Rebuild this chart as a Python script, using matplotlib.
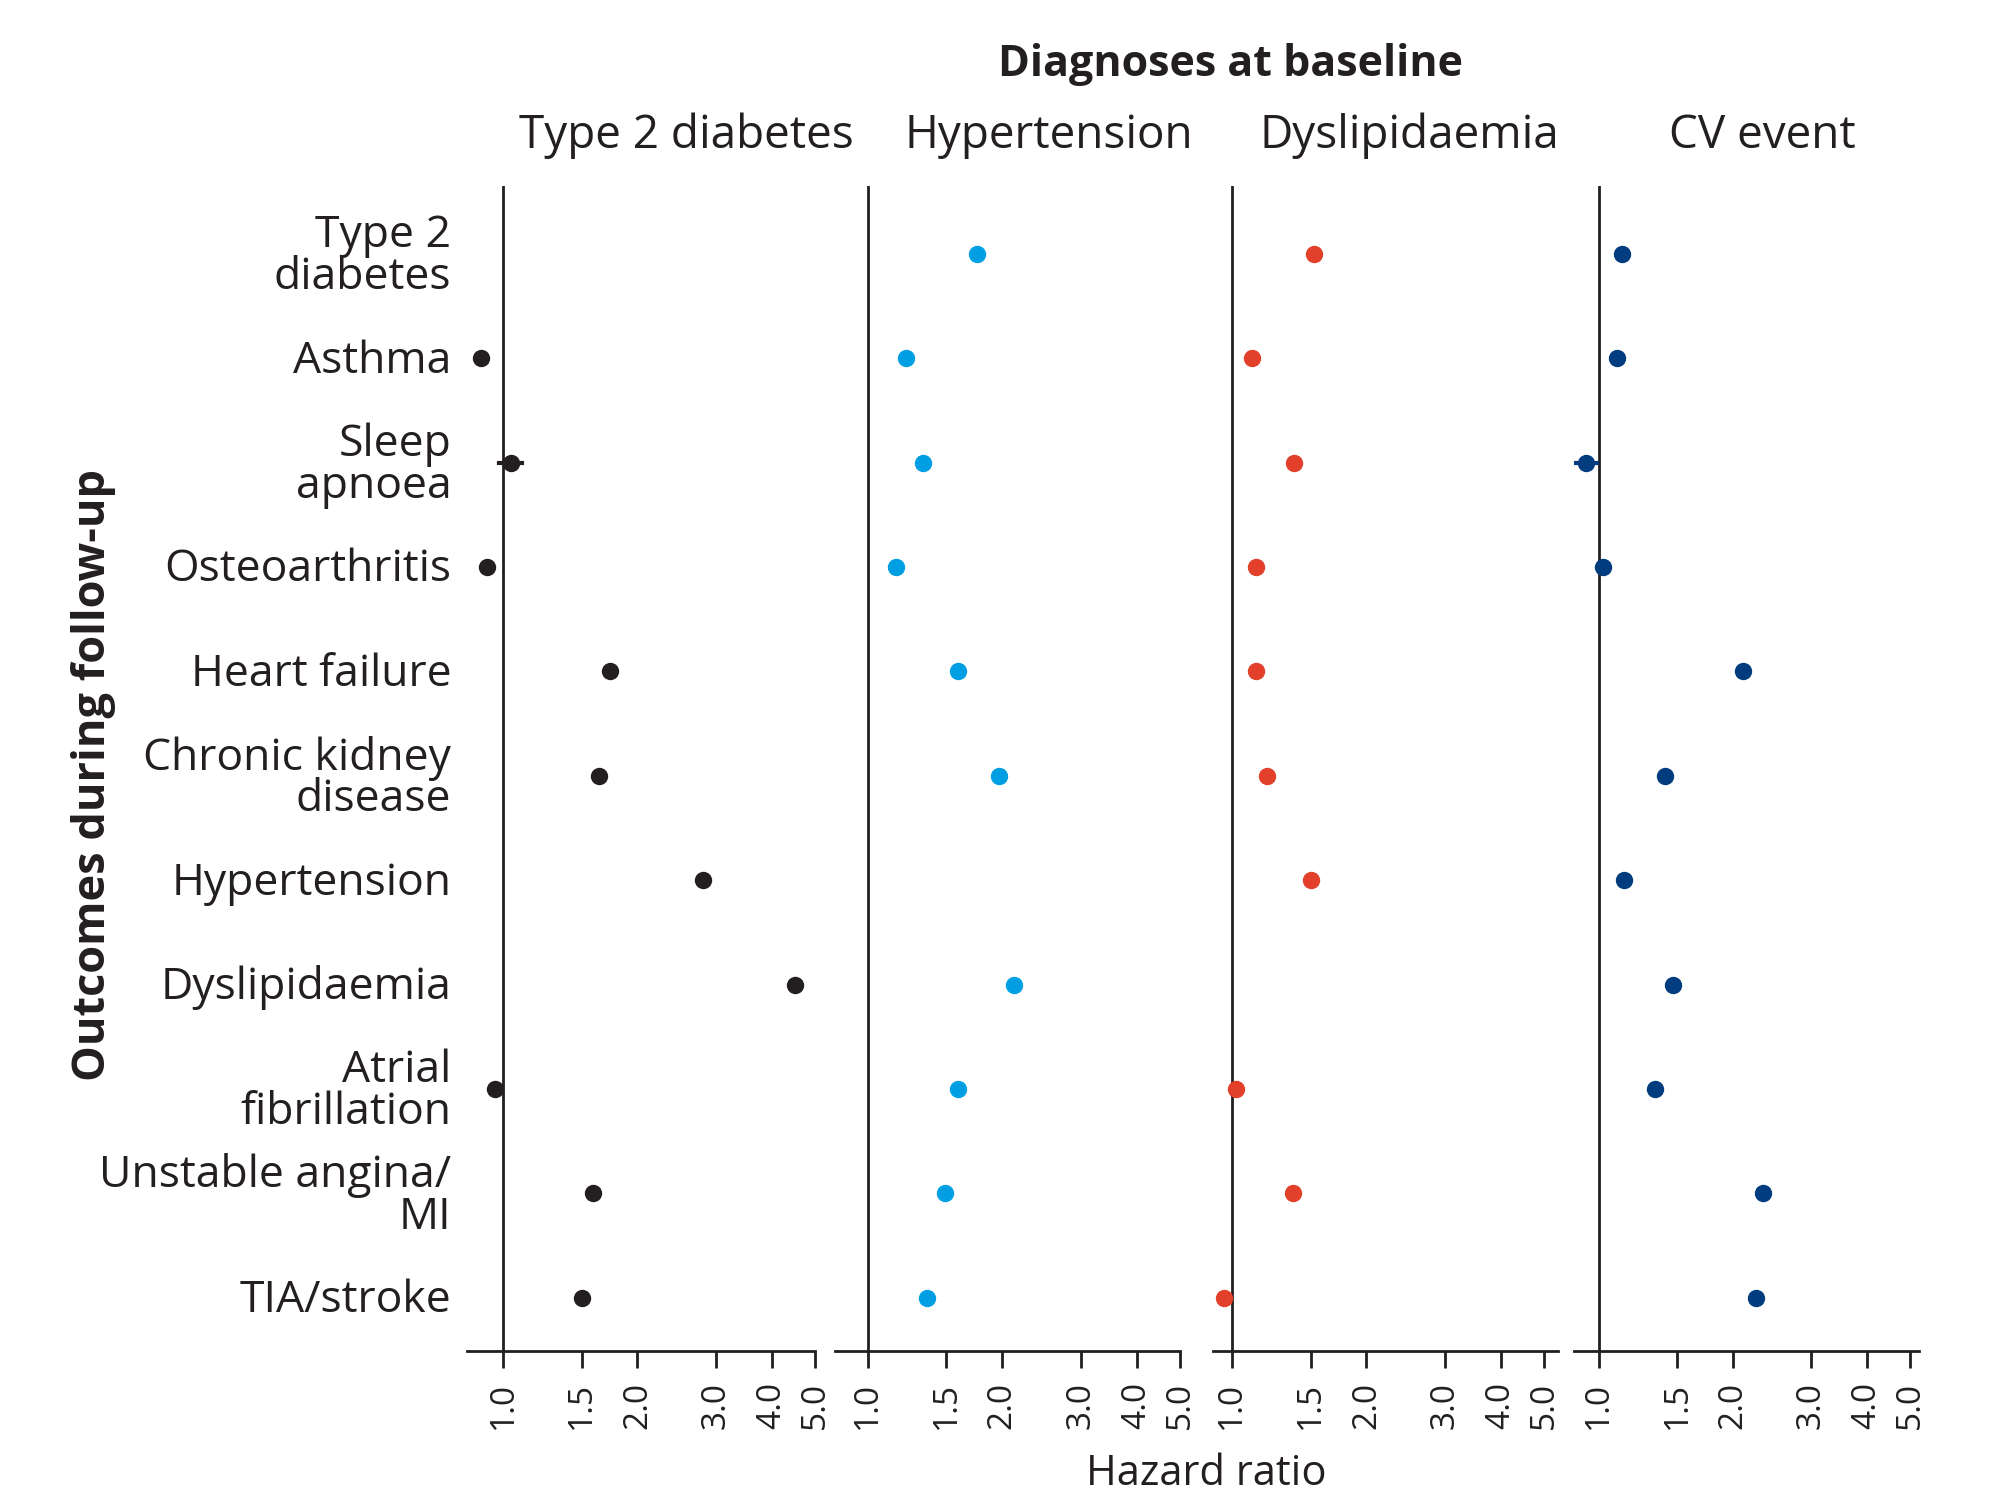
import numpy as np
import matplotlib
matplotlib.use("Agg")
import matplotlib.pyplot as plt

plt.rcParams['font.family'] = ['Open Sans', 'DejaVu Sans']

outcomes = ["Type 2\ndiabetes", "Asthma", "Sleep\napnoea", "Osteoarthritis",
            "Heart failure", "Chronic kidney\ndisease", "Hypertension",
            "Dyslipidaemia", "Atrial\nfibrillation", "Unstable angina/\nMI",
            "TIA/stroke"]

panels = ["Type 2 diabetes", "Hypertension", "Dyslipidaemia", "CV event"]
colors = ["#231f20", "#009fe3", "#e2402a", "#003c7e"]

nan = np.nan
hr_t2d = [nan, 0.89, 1.04, 0.92, 1.74, 1.64, 2.80, 4.51, 0.96, 1.59, 1.50]
hr_htn = [1.76, 1.22, 1.33, 1.16, 1.59, 1.97, nan, 2.13, 1.59, 1.49, 1.36]
hr_dys = [1.53, 1.11, 1.38, 1.13, 1.13, 1.20, 1.50, nan, 1.02, 1.37, 0.96]
hr_cv  = [1.13, 1.10, 0.935, 1.02, 2.11, 1.41, 1.14, 1.47, 1.34, 2.34, 2.25]

# only the confidence intervals that stick out of the markers
ci_low  = [[nan, nan, 0.98, nan, nan, nan, nan, nan, nan, nan, nan],
           [nan] * 11,
           [nan] * 11,
           [nan, nan, 0.88, nan, nan, nan, nan, nan, nan, nan, nan]]
ci_high = [[nan, nan, 1.10, nan, nan, nan, nan, nan, nan, nan, nan],
           [nan] * 11,
           [nan] * 11,
           [nan, nan, 0.99, nan, nan, nan, nan, nan, nan, nan, nan]]

ticks = [1.0, 1.5, 2.0, 3.0, 4.0, 5.0]
tick_labels = ["1.0", "1.5", "2.0", "3.0", "4.0", "5.0"]
xlims = [(0.83, 5.0), (0.845, 5.0), (0.908, 5.36), (0.88, 5.23)]

W, H = 1993, 1496
fig = plt.figure(figsize=(W / 100, H / 100), dpi=100)

ax_left = [467, 835, 1213, 1574]
ax_right = [815, 1180, 1558, 1919]
top_px, bot_px = 186, 1351

y = np.arange(len(outcomes))
all_hr = [hr_t2d, hr_htn, hr_dys, hr_cv]

for i in range(4):
    ax = fig.add_axes([ax_left[i] / W, 1 - bot_px / H,
                       (ax_right[i] - ax_left[i]) / W, (bot_px - top_px) / H])
    ax.set_xscale("log")
    ax.set_xlim(*xlims[i])
    ax.set_ylim(10.51, -0.65)
    ax.axvline(1.0, color="#231f20", lw=2.0, zorder=1)

    hr = np.array(all_hr[i])
    lo = np.array(ci_low[i])
    hi = np.array(ci_high[i])
    for j in range(len(y)):
        if not np.isnan(lo[j]):
            ax.plot([lo[j], hi[j]], [y[j], y[j]], color=colors[i], lw=3, zorder=2)
    ax.plot(hr, y, "o", color=colors[i], markersize=11.5, zorder=3, linestyle="none")

    for s in ["left", "top", "right"]:
        ax.spines[s].set_visible(False)
    ax.spines["bottom"].set_linewidth(2)
    ax.spines["bottom"].set_color("#231f20")

    ax.set_xticks(ticks)
    ax.set_xticklabels(tick_labels)
    ax.xaxis.set_minor_locator(matplotlib.ticker.NullLocator())
    ax.tick_params(axis="x", direction="out", length=12, width=2, pad=10,
                   labelsize=24, labelrotation=90, colors="#231f20")
    ax.set_yticks([])

    if i == 0:
        for j, lab in enumerate(outcomes):
            ax.text(-0.045, y[j] + 0.03, lab, transform=ax.get_yaxis_transform(),
                    ha="right", va="center", fontsize=32, color="#231f20",
                    linespacing=0.92)

title_x = [686, 1049, 1409, 1762]
for i in range(4):
    fig.text(title_x[i] / W, 1 - 136 / H, panels[i], ha="center", va="center",
             fontsize=33, color="#231f20")

fig.text(1231 / W, 1 - 65 / H, "Diagnoses at baseline", ha="center", va="center",
         fontsize=31, fontweight="bold", color="#231f20")
fig.text(1206 / W, 1 - 1474 / H, "Hazard ratio", ha="center", va="center",
         fontsize=30, color="#231f20")
fig.text(94 / W, 1 - 775 / H, "Outcomes during follow-up", ha="center", va="center",
         rotation=90, fontsize=32.5, fontweight="bold", color="#231f20")

fig.savefig("out.png", dpi=100)
